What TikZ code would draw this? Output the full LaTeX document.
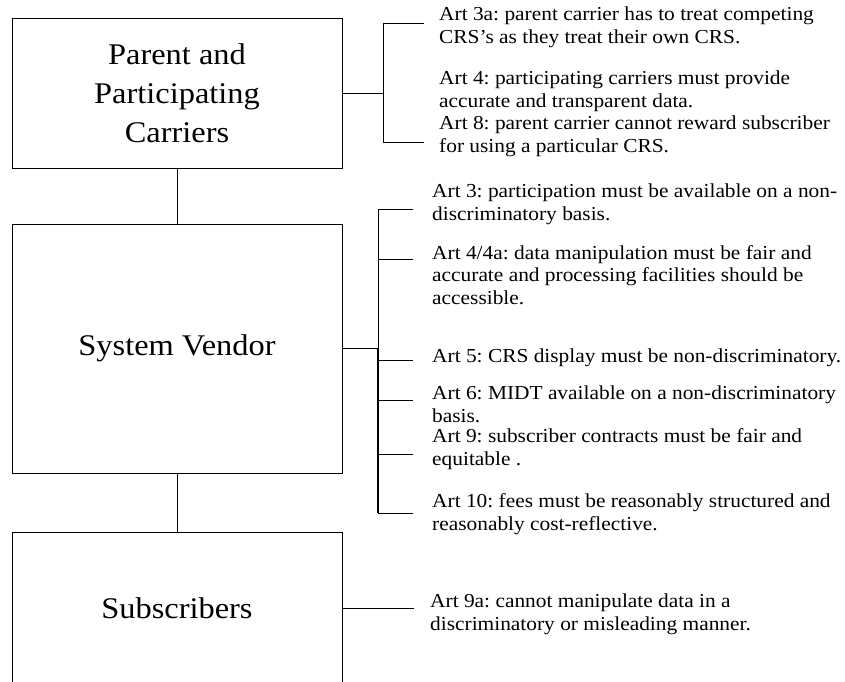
\documentclass[tikz,border=0pt]{standalone}
\usepackage{fontspec}
\setmainfont{Liberation Serif}[FakeStretch=1.08]
\frenchspacing
\begin{document}
\begin{tikzpicture}[x=1pt,y=-1pt,
  box/.style={draw=black, line width=1pt, align=center, inner sep=0pt,
    minimum width=330pt, font=\fontsize{30}{39}\selectfont},
  art/.style={anchor=base west, align=left, inner sep=0pt,
    font=\fontsize{19.8}{22.4}\selectfont},
  con/.style={draw=black, line width=1pt},
  thick con/.style={draw=black, line width=1.8pt}]
\useasboundingbox (0,0) rectangle (845,681);
\clip (0,0) rectangle (845,681);
\fill[white] (0,0) rectangle (845,681);
% boxes
\node[box, minimum height=150pt] (pp) at (177,93) {Parent and\\Participating\\Carriers};
\node[box, minimum height=249pt] (sv) at (177,348.5) {System Vendor};
\node[box, minimum height=152pt] (sub) at (177,608) {Subscribers};
% texts, top group (anchored at the baseline of the last line)
\node[art] (a3a) at (439,43) {Art 3a: parent carrier has to treat competing\\CRS’s as they treat their own CRS.};
\node[art] (a4) at (439,107) {Art 4: participating carriers must provide\\accurate and transparent data.};
\node[art] (a8) at (439,152) {Art 8: parent carrier cannot reward subscriber\\for using a particular CRS.};
% texts, system vendor group
\node[art] (b3) at (432,220) {Art 3: participation must be available on a non-\\discriminatory basis.};
\node[art] (b4) at (432,304) {Art 4/4a: data manipulation must be fair and\\accurate and processing facilities should be\\accessible.};
\node[art] (b5) at (432,362) {Art 5: CRS display must be non-discriminatory.};
\node[art] (b6) at (432,422) {Art 6: MIDT available on a non-discriminatory\\basis.};
\node[art] (b9) at (432,465) {Art 9: subscriber contracts must be fair and\\equitable .};
\node[art] (b10) at (432,530) {Art 10: fees must be reasonably structured and\\reasonably cost-reflective.};
% text, subscribers
\node[art] (c9a) at (430,630) {Art 9a: cannot manipulate data in a\\discriminatory or misleading manner.};
% coordinates
\coordinate (j1) at (383,93);
\coordinate (t1a) at (383,23);  \coordinate (e1a) at (424,23);
\coordinate (t1b) at (383,142); \coordinate (e1b) at (424,142);
\coordinate (j2) at (378,348.5);
\coordinate (t2a) at (378,209); \coordinate (e2a) at (413,209);
\coordinate (t2b) at (378,259); \coordinate (e2b) at (413,259);
\coordinate (t2c) at (378,360); \coordinate (e2c) at (413,360);
\coordinate (t2d) at (378,400); \coordinate (e2d) at (413,400);
\coordinate (t2e) at (378,454); \coordinate (e2e) at (413,454);
\coordinate (t2f) at (378,513); \coordinate (e2f) at (413,513);
\coordinate (e3) at (414,608);
% connectors between boxes
\draw[con] (pp.south) -- (sv.north);
\draw[con] (sv.south) -- (sub.north);
% top bracket
\draw[con] (pp.east) -- (j1);
\draw[con] (e1a) -- (t1a) -- (t1b) -- (e1b);
% system vendor bracket
\draw[thick con] (sv.east) -- (j2);
\draw[con] (e2a) -- (t2a) -- (j2);
\draw[con] (t2b) -- (e2b);
\draw[thick con] (j2) -- (t2f);
\draw[con] (t2c) -- (e2c);
\draw[con] (t2d) -- (e2d);
\draw[con] (t2e) -- (e2e);
\draw[con] (t2f) -- (e2f);
% subscribers
\draw[con] (sub.east) -- (e3);
\end{tikzpicture}
\end{document}
